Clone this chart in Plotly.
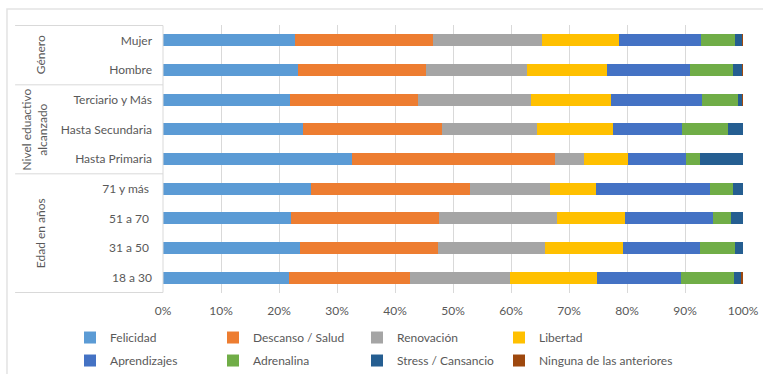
import plotly.graph_objects as go

categories = ["Mujer", "Hombre", "Terciario y Más", "Hasta Secundaria", "Hasta Primaria",
              "71 y más\u00a0", "51 a 70\u00a0", "31 a 50\u00a0", "18 a 30"]

series_names = ["Felicidad", "Descanso / Salud", "Renovación", "Libertad",
                "Aprendizajes", "Adrenalina", "Stress / Cansancio", "Ninguna de las anteriores"]

felicidad    = [22.8, 23.2, 21.9, 24.2, 32.6, 25.5, 22.1, 23.6, 21.7]
descanso     = [23.8, 22.2, 22.1, 23.9, 34.9, 27.5, 25.4, 23.8, 20.8]
renovacion   = [18.7, 17.3, 19.5, 16.4, 5.0, 13.7, 20.5, 18.5, 17.3]
libertad     = [13.3, 13.8, 13.8, 13.0, 7.6, 7.9, 11.7, 13.4, 15.0]
aprendizajes = [14.1, 14.4, 15.6, 12.0, 10.1, 19.7, 15.1, 13.3, 14.5]
adrenalina   = [5.9, 7.4, 6.2, 7.9, 2.4, 3.9, 3.2, 6.0, 9.2]
stress       = [1.3, 1.6, 0.8, 2.6, 7.4, 1.8, 2.0, 1.4, 1.1]
ninguna      = [0.2, 0.1, 0.2, 0.0, 0.0, 0.0, 0.0, 0.0, 0.4]

series_values = [felicidad, descanso, renovacion, libertad, aprendizajes, adrenalina, stress, ninguna]
colors = ["#5B9BD5", "#ED7D31", "#A5A5A5", "#FFC000", "#4472C4", "#70AD47", "#255E91", "#9E480E"]

groups = ["Género", "Nivel eduactivo<br>alcanzado", "Edad en años"]
group_centers = [0.5, 3, 6.5]
group_label_x = [-0.212, -0.222, -0.212]
group_dividers = [-0.5, 1.5, 4.5, 8.5]

x_ticks = [0, 10, 20, 30, 40, 50, 60, 70, 80, 90, 100]
x_tick_labels = [f"{v}%" for v in x_ticks]

font_family = "Lato, 'Open Sans', sans-serif"
text_color = "#595959"
grid_color = "#D9D9D9"

# legend columns (one legend per column, two entries each)
legend_ids = ["legend", "legend2", "legend3", "legend4"]
legend_x = [-0.1603, 0.0862, 0.3345, 0.5793]

fig = go.Figure()
for i, (name, vals, col) in enumerate(zip(series_names, series_values, colors)):
    fig.add_trace(go.Bar(
        y=categories, x=vals, name=name, orientation="h",
        marker=dict(color=col, line=dict(width=0)),
        legend=legend_ids[i % 4], legendgroup=name,
    ))

shapes = []
for d in group_dividers:
    shapes.append(dict(type="line", xref="paper", yref="y", x0=-0.255, x1=0, y0=d, y1=d,
                       line=dict(color=grid_color, width=1)))
shapes.append(dict(type="line", xref="paper", yref="y", x0=0, x1=0, y0=-0.5, y1=8.5,
                   line=dict(color=grid_color, width=1)))
shapes.append(dict(type="rect", xref="paper", yref="paper", x0=-0.269, x1=1.08, y0=-0.34, y1=1.06,
                   line=dict(color="#E3E3E3", width=1.5), fillcolor="rgba(0,0,0,0)"))

annotations = []
for g, c, gx in zip(groups, group_centers, group_label_x):
    annotations.append(dict(text=g, xref="paper", yref="y", x=gx, y=c, textangle=-90,
                            showarrow=False, xanchor="center", yanchor="middle",
                            font=dict(family=font_family, size=12, color=text_color)))

legend_common = dict(orientation="v", xanchor="left", y=-0.112, yanchor="top",
                     tracegroupgap=4, traceorder="grouped",
                     font=dict(size=12, color=text_color), bgcolor="rgba(0,0,0,0)")

fig.update_layout(
    barmode="stack",
    bargap=0.6,
    width=763, height=374,
    margin=dict(l=163, r=20, t=25, b=81, autoexpand=False),
    paper_bgcolor="white", plot_bgcolor="white",
    font=dict(family=font_family, size=12, color=text_color),
    xaxis=dict(range=[0, 100], tickvals=x_ticks, ticktext=x_tick_labels,
               showgrid=True, gridcolor=grid_color, gridwidth=1, zeroline=False,
               showline=False, ticks="", ticklabelstandoff=9, automargin=False,
               tickfont=dict(size=12, color=text_color), fixedrange=True),
    yaxis=dict(type="category", categoryorder="array", categoryarray=categories,
               autorange="reversed", showgrid=False, zeroline=False, showline=False,
               ticks="", ticklabelstandoff=10, automargin=False,
               tickfont=dict(size=12, color=text_color)),
    shapes=shapes,
    annotations=annotations,
    showlegend=True,
)
for lid, lx in zip(legend_ids, legend_x):
    fig.update_layout({lid: dict(x=lx, **legend_common)})

fig.write_html("out.html")
